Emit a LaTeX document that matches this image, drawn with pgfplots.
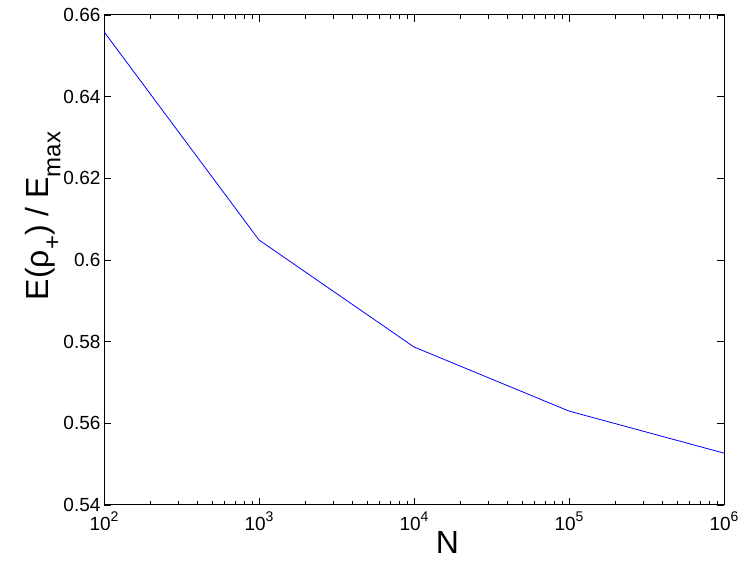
\documentclass[border=0pt]{standalone}
\usepackage{fontspec}
\setmainfont{Liberation Sans}
\usepackage{pgfplots}
\pgfplotsset{compat=1.18}
\newcommand{\tp}[1]{10\raisebox{0.5em}{\fontsize{14}{14}\selectfont #1}}
\newcommand{\sub}[1]{\raisebox{-0.38em}{\fontsize{24}{24}\selectfont #1}}
\begin{document}
\begin{tikzpicture}
\begin{axis}[
  name=ax,
  scale only axis,
  width=620pt, height=490pt,
  xmode=log,
  xmin=100, xmax=1000000,
  ymin=0.54, ymax=0.66,
  ytick={0.54,0.56,0.58,0.6,0.62,0.64,0.66},
  xtick={100,1000,10000,100000,1000000},
  xticklabels={\tp{2},\tp{3},\tp{4},\tp{5},\tp{6}},
  /pgf/number format/assume math mode=true,
  yticklabel style={/pgf/number format/fixed, font=\fontsize{19}{22}\selectfont},
  xticklabel style={font=\fontsize{19}{22}\selectfont, yshift=-3pt},
  tick align=inside,
  major tick length=7pt,
  minor tick length=4pt,
  tick style={black, line width=0.8pt},
  axis line style={black, line width=1pt},
  xlabel={N},
  ylabel={E(ρ\sub{+}) / E\sub{max}},
  label style={font=\fontsize{32}{36}\selectfont},
  xlabel style={at={(ticklabel cs:0.554)}, anchor=north, yshift=6pt},
  ylabel style={at={(ticklabel cs:0.59)}, yshift=-4pt},
]
\addplot[color={rgb,255:red,0;green,0;blue,255}, line width=0.8pt] coordinates {
  (100,0.6559) (1000,0.6049) (10000,0.5787) (100000,0.5630) (1000000,0.5527)
};
\end{axis}
\path[use as bounding box] ([shift={(-104pt,-62pt)}]ax.south west) rectangle ([shift={(21pt,15pt)}]ax.north east);
\end{tikzpicture}
\end{document}
